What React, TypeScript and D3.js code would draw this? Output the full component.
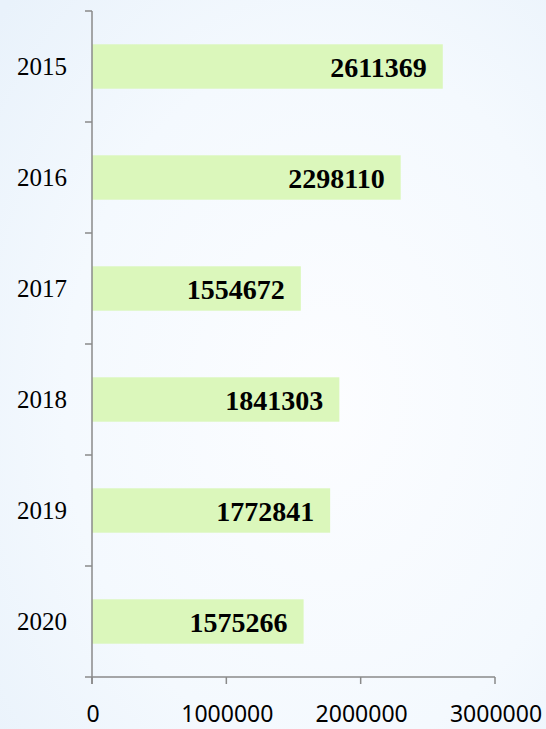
import React, { useEffect, useRef } from "react";
import * as d3 from "d3";

const years = ["2015", "2016", "2017", "2018", "2019", "2020"];
const values = [2611369, 2298110, 1554672, 1841303, 1772841, 1575266];
const xTicks = [0, 1000000, 2000000, 3000000];

const W = 546;
const H = 729;

export default function App() {
    const svgRef = useRef<SVGSVGElement | null>(null);

    useEffect(() => {
        if (!svgRef.current) return;
        const svg = d3.select(svgRef.current);
        svg.selectAll("*").remove();

        // soft blue background
        const defs = svg.append("defs");
        const grad = defs
            .append("radialGradient")
            .attr("id", "bg")
            .attr("cx", "0.6")
            .attr("cy", "0.55")
            .attr("r", "0.8");
        grad.append("stop").attr("offset", "0").attr("stop-color", "#fcfdff");
        grad.append("stop").attr("offset", "0.6").attr("stop-color", "#f4f9fe");
        grad.append("stop").attr("offset", "1").attr("stop-color", "#e9f2fb");
        svg.append("rect").attr("width", W).attr("height", H).attr("fill", "url(#bg)");

        const left = 92;
        const top = 11;
        const bottom = 677;

        const x = d3.scaleLinear().domain([0, 3000000]).range([left, 495]);
        const y = d3.scaleBand<string>().domain(years).range([top, bottom]).padding(0);
        const step = y.bandwidth();
        const barH = step * 0.4;

        // bars
        svg
            .selectAll(".bar")
            .data(years)
            .enter()
            .append("rect")
            .attr("x", x(0))
            .attr("y", (d) => (y(d) ?? 0) + (step - barH) / 2)
            .attr("width", (_, i) => x(values[i]) - x(0))
            .attr("height", barH)
            .attr("fill", "#dbf7bb");

        // value labels
        svg
            .selectAll(".val")
            .data(years)
            .enter()
            .append("text")
            .attr("x", (_, i) => x(values[i]) - 16)
            .attr("y", (d) => (y(d) ?? 0) + step / 2 + 10)
            .attr("text-anchor", "end")
            .attr("font-family", "'Times New Roman', 'Liberation Serif', serif")
            .attr("font-weight", "bold")
            .attr("font-size", 28)
            .attr("fill", "#000")
            .text((_, i) => String(values[i]));

        const axisColor = "#8a8a8a";

        // y axis line + ticks at band boundaries
        svg
            .append("line")
            .attr("x1", left)
            .attr("x2", left)
            .attr("y1", top)
            .attr("y2", bottom + 7)
            .attr("stroke", axisColor)
            .attr("stroke-width", 1.5);
        const bounds = years.map((d) => y(d) ?? 0).concat([bottom]);
        svg
            .selectAll(".ytick")
            .data(bounds)
            .enter()
            .append("line")
            .attr("x1", left - 7)
            .attr("x2", left)
            .attr("y1", (d) => d)
            .attr("y2", (d) => d)
            .attr("stroke", axisColor)
            .attr("stroke-width", 1.5);

        // year labels
        svg
            .selectAll(".ylab")
            .data(years)
            .enter()
            .append("text")
            .attr("x", 67)
            .attr("y", (d) => (y(d) ?? 0) + step / 2 + 8.5)
            .attr("text-anchor", "end")
            .attr("font-family", "'Times New Roman', 'Liberation Serif', serif")
            .attr("font-size", 25)
            .attr("fill", "#000")
            .text((d) => d);

        // x axis
        svg
            .append("line")
            .attr("x1", left)
            .attr("x2", x(3000000))
            .attr("y1", bottom)
            .attr("y2", bottom)
            .attr("stroke", axisColor)
            .attr("stroke-width", 1.5);
        svg
            .selectAll(".xtick")
            .data(xTicks)
            .enter()
            .append("line")
            .attr("x1", (d) => x(d))
            .attr("x2", (d) => x(d))
            .attr("y1", bottom)
            .attr("y2", bottom + 7)
            .attr("stroke", axisColor)
            .attr("stroke-width", 1.5);
        svg
            .selectAll(".xlab")
            .data(xTicks)
            .enter()
            .append("text")
            .attr("x", (d) => x(d) + 1)
            .attr("y", 722)
            .attr("text-anchor", "middle")
            .attr("font-family", "'Noto Sans', 'DejaVu Sans', sans-serif")
            .attr("font-size", 23)
            .attr("fill", "#000")
            .text((d) => String(d));
    }, []);

    return (
        <svg
            ref={svgRef}
            width={W}
            height={H}
            style={{ position: "absolute", left: 0, top: 0, display: "block" }}
        />
    );
}
